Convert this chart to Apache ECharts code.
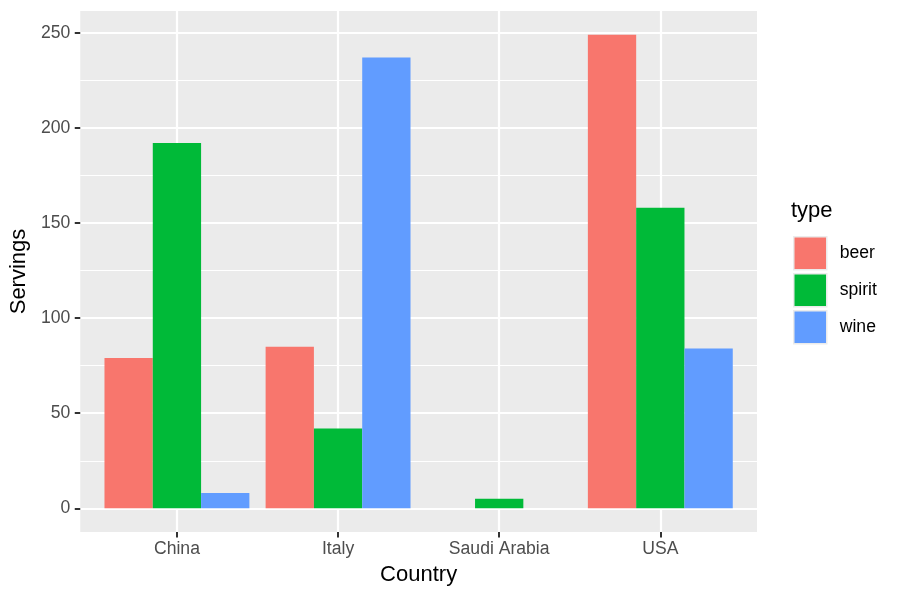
<!DOCTYPE html>
<html>
<head>
<meta charset="utf-8">
<script src="https://cdn.jsdelivr.net/npm/echarts@6/dist/echarts.min.js"></script>
<style>
html, body { margin: 0; padding: 0; background: #fff; }
#chart { width: 900px; height: 600px; }
</style>
</head>
<body>
<div id="chart"></div>
<script>
// drinks servings per country
var countries = ['China', 'Italy', 'Saudi Arabia', 'USA'];
var beer = [79, 85, 0, 249];
var spirit = [192, 42, 5, 158];
var wine = [8, 237, 0, 84];
var yMajor = [0, 50, 100, 150, 200, 250];
var yMinor = [25, 75, 125, 175, 225];
var xTicks = [1, 2, 3, 4];

var font = 'Liberation Sans';

function pairs(vals) {
	return vals.map(function (v, i) { return [i + 1, v]; });
}

var chart = echarts.init(document.getElementById('chart'));
var option = {
	animation: false,
	textStyle: { fontFamily: font },
	title: [{
		text: 'type',
		left: 791,
		top: 200,
		padding: 0,
		textStyle: { fontFamily: font, fontSize: 22, fontWeight: 'normal', color: '#000' }
	}],
	legend: {
		orient: 'vertical',
		left: 793,
		top: 236,
		padding: 0,
		icon: 'rect',
		itemWidth: 33,
		itemHeight: 33,
		itemGap: 2.5,
		itemStyle: { borderColor: '#EBEBEB', borderWidth: 1.5 },
		textStyle: { fontFamily: font, fontSize: 17.6, color: '#000', padding: [0, 0, 0, 8] },
		data: ['beer', 'spirit', 'wine']
	},
	grid: {
		left: 80,
		right: 143,
		top: 11,
		bottom: 68,
		show: true,
		backgroundColor: '#EBEBEB',
		borderWidth: 0
	},
	xAxis: {
		type: 'value',
		min: 0.4,
		max: 4.6,
		name: 'Country',
		nameLocation: 'middle',
		nameGap: 32,
		nameTextStyle: { fontFamily: font, fontSize: 22, color: '#000' },
		axisLine: { show: false, onZero: false },
		axisTick: { show: true, customValues: xTicks, length: 5.5, lineStyle: { color: '#333333', width: 2 } },
		axisLabel: {
			customValues: xTicks,
			margin: 8,
			fontFamily: font,
			fontSize: 17.6,
			color: '#4D4D4D',
			formatter: function (v) { return countries[Math.round(v) - 1]; }
		},
		splitLine: { show: true, lineStyle: { color: '#FFFFFF', width: 2.2 } }
	},
	yAxis: [{
		type: 'value',
		min: -12.45,
		max: 261.45,
		name: 'Servings',
		nameLocation: 'middle',
		nameRotate: 90,
		nameGap: 45,
		nameTextStyle: { fontFamily: font, fontSize: 22, color: '#000' },
		axisLine: { show: false, onZero: false },
		axisTick: { show: true, customValues: yMajor, length: 5.5, lineStyle: { color: '#333333', width: 2 } },
		axisLabel: { customValues: yMajor, margin: 10, fontFamily: font, fontSize: 17.6, color: '#4D4D4D' },
		splitLine: { show: true, lineStyle: { color: '#FFFFFF', width: 2.2 } }
	}, {
		type: 'value',
		position: 'right',
		min: -12.45,
		max: 261.45,
		axisLine: { show: false, onZero: false },
		axisTick: { show: false, customValues: yMinor },
		axisLabel: { show: false },
		splitLine: { show: true, lineStyle: { color: '#FFFFFF', width: 1.1 } }
	}],
	series: [{
		name: 'beer',
		type: 'bar',
		barWidth: 48.3,
		barGap: '0%',
		itemStyle: { color: '#F8766D' },
		data: pairs(beer)
	}, {
		name: 'spirit',
		type: 'bar',
		barWidth: 48.3,
		barGap: '0%',
		itemStyle: { color: '#00BA38' },
		data: pairs(spirit)
	}, {
		name: 'wine',
		type: 'bar',
		barWidth: 48.3,
		barGap: '0%',
		itemStyle: { color: '#619CFF' },
		data: pairs(wine)
	}]
};
chart.setOption(option, true);
</script>
</body>
</html>
